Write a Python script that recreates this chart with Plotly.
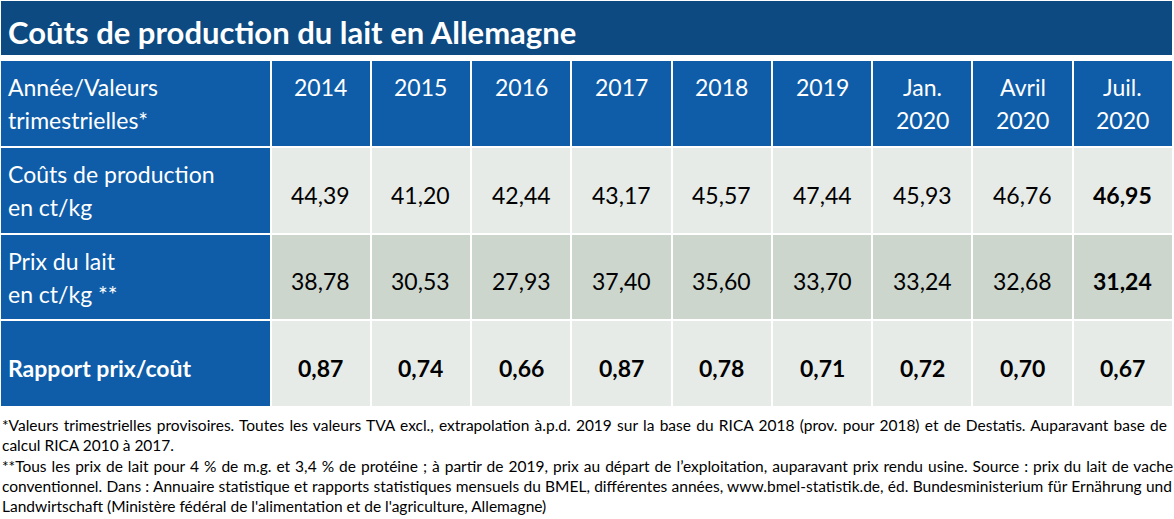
import plotly.graph_objects as go

# ---- data ----
title = "Coûts de production du lait en Allemagne"
corner_label = "Année/Valeurs<br>trimestrielles*"
periods = ["2014", "2015", "2016", "2017", "2018", "2019",
           "Jan.<br>2020", "Avril<br>2020", "Juil.<br>2020"]
row_labels = ["Coûts de production<br>en ct/kg",
              "Prix du lait<br>en ct/kg **",
              "<b>Rapport prix/coût</b>"]
couts = [44.39, 41.20, 42.44, 43.17, 45.57, 47.44, 45.93, 46.76, 46.95]
prix = [38.78, 30.53, 27.93, 37.40, 35.60, 33.70, 33.24, 32.68, 31.24]
rapport = [0.87, 0.74, 0.66, 0.87, 0.78, 0.71, 0.72, 0.70, 0.67]
footnote1_lines = [
    "*Valeurs trimestrielles provisoires. Toutes les valeurs TVA excl., extrapolation à.p.d. 2019 "
    "sur la base du RICA 2018 (prov. pour 2018) et de Destatis. Auparavant base de",
    "calcul RICA 2010 à 2017.",
]
footnote2_lines = [
    "**Tous les prix de lait pour 4 % de m.g. et 3,4 % de protéine ; à partir de 2019, prix au départ "
    "de l’exploitation, auparavant prix rendu usine. Source : prix du lait de vache",
    "conventionnel. Dans : Annuaire statistique et rapports statistiques mensuels du BMEL, différentes "
    "années, www.bmel-statistik.de, éd. Bundesministerium für Ernährung und",
    "Landwirtschaft (Ministère fédéral de l'alimentation et de l'agriculture, Allemagne)",
]

# ---- layout / style ----
W, H = 1174, 519
FONT = "Lato"
BLUE = "#0F5DA8"
DARK = "#0D4A82"
LIGHT = "#E7EBE7"
MID = "#CCD6CD"
CELL_SIZE = 23
LINE_GAP = 33
NOTE_SIZE = 15.5
NOTE_GAP = 20.2

first_w = 270.5
col_w = (1173 - first_w) / len(periods)
x_edges = [0, first_w] + [first_w + (i + 1) * col_w for i in range(len(periods))]
y_top, row_h = 60, 86.75
y_edges = [y_top + i * row_h for i in range(4 + 1)]

def fmt(v):
    return f"{v:.2f}".replace(".", ",")

# heatmap z: 0 = blue, 1 = light, 2 = mid
z = [[0] * (len(periods) + 1)]
for shade in (1, 2, 1):
    z.append([0] + [shade] * len(periods))

fig = go.Figure(go.Heatmap(
    z=z, x=x_edges, y=y_edges, zmin=0, zmax=2,
    colorscale=[[0, BLUE], [0.5, LIGHT], [1, MID]],
    showscale=False, xgap=2, ygap=2, hoverinfo="skip",
))

# title bar
fig.add_shape(type="rect", xref="x", yref="y", x0=1, x1=1172, y0=1, y1=55,
              fillcolor=DARK, line=dict(width=0), layer="below")
fig.add_annotation(x=6, y=32, xref="x", yref="y", text=f"<b>{title}</b>",
                   showarrow=False, xanchor="left", yanchor="middle",
                   font=dict(family=FONT, size=31, color="white"))

centers_x = [(x_edges[i] + x_edges[i + 1]) / 2 for i in range(len(x_edges) - 1)]
centers_y = [(y_edges[i] + y_edges[i + 1]) / 2 for i in range(len(y_edges) - 1)]

def put_lines(text, x, y_first, anchor, color):
    for k, line in enumerate(text.split("<br>")):
        fig.add_annotation(x=x, y=y_first + k * LINE_GAP, text=line, showarrow=False,
                           xanchor=anchor, yanchor="middle",
                           font=dict(family=FONT, size=CELL_SIZE, color=color))

# header (top-aligned)
hy = centers_y[0] - 16.0
put_lines(corner_label, 6, hy, "left", "white")
for i, p in enumerate(periods):
    put_lines(p, centers_x[i + 1], hy, "center", "white")

# body rows
rows = [
    [fmt(v) for v in couts],
    [fmt(v) for v in prix],
    [fmt(v) for v in rapport],
]
for r, (lab, vals) in enumerate(zip(row_labels, rows)):
    vy = centers_y[r + 1] + 4.5
    nl = len(lab.split("<br>"))
    ly = vy if nl == 1 else vy - 20.5
    put_lines(lab, 6, ly, "left", "white")
    for i, v in enumerate(vals):
        bold = (r == 2) or (i == len(vals) - 1)
        txt = f"<b>{v}</b>" if bold else v
        put_lines(txt, centers_x[i + 1], vy, "center", "black")

# footnotes (justified lines get extra word spacing)
def put_note(lines, y_first, spacings):
    for k, (line, ws) in enumerate(zip(lines, spacings)):
        txt = f'<span style="word-spacing:{ws}px">{line}</span>' if ws else line
        fig.add_annotation(x=0, y=y_first + k * NOTE_GAP, text=txt, showarrow=False,
                           xanchor="left", yanchor="middle", align="left",
                           font=dict(family=FONT, size=NOTE_SIZE, color="black"))

put_note(footnote1_lines, 425, [1.3, 0])
put_note(footnote2_lines, 466, [1.05, 0.3, 0])

fig.update_layout(
    width=W, height=H, margin=dict(l=0, r=0, t=0, b=0),
    paper_bgcolor="white", plot_bgcolor="white",
    xaxis=dict(range=[0, W], visible=False, fixedrange=True),
    yaxis=dict(range=[H, 0], visible=False, fixedrange=True),
    showlegend=False,
)
fig.write_html("out.html", post_script="document.body.style.margin='0';",
               config={"displayModeBar": False})
